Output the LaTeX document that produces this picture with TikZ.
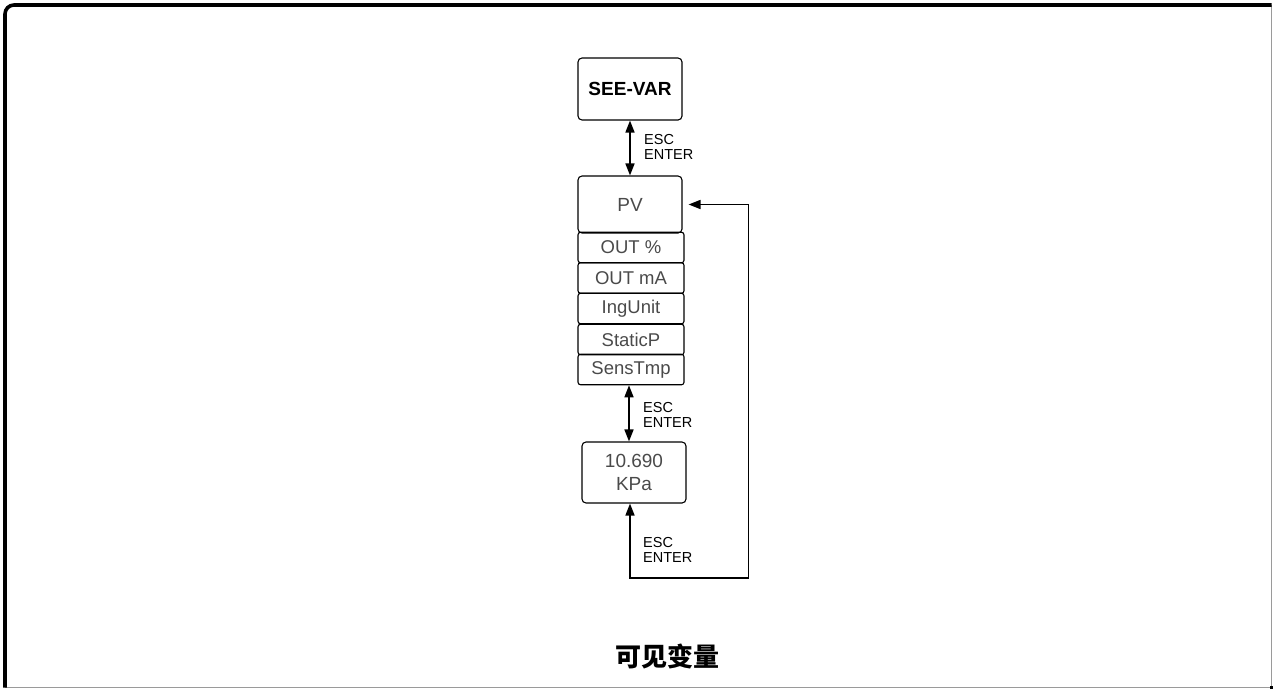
\documentclass[tikz,border=0pt]{standalone}
\usepackage{fontspec}
\setmainfont{Liberation Sans}
\newfontfamily\cjk{Noto Sans CJK SC}
\usetikzlibrary{arrows.meta,calc}
\definecolor{txtgrey}{HTML}{4A4A4A}
\definecolor{framegrey}{HTML}{9A9A9A}
\tikzset{
  box/.style={draw=black, line width=1.1pt, rounded corners=4pt, minimum width=104pt, inner sep=0pt, text=txtgrey, font=\fontsize{19}{23}\selectfont, align=center},
  item/.style={draw=black, line width=1.1pt, rounded corners=2.5pt, minimum width=106pt, minimum height=30.5pt, inner sep=0pt, text=txtgrey, font=\fontsize{18.5}{22}\selectfont},
  conn/.style={line width=1.6pt, {Triangle[length=12pt,width=9pt]}-{Triangle[length=12pt,width=9pt]}},
  lbl/.style={anchor=west, inner sep=0pt, align=left, font=\fontsize{14.5}{15}\selectfont},
}
\begin{document}
\begin{tikzpicture}[x=1pt,y=-1pt]
\useasboundingbox (0,0) rectangle (1273,689);
% outer frame
\draw[framegrey, line width=1.2pt] (5,687.5) -- (1271.5,687.5) -- (1271.5,5);
\draw[black, line width=3.6pt, rounded corners=9pt] (5,687.5) -- (5,5) -- (1271.5,5);
\fill[black] (1269.5,685.5) rectangle (1273,689);
% nodes
\node[box, minimum height=62pt, text=black, font=\bfseries\fontsize{19}{23}\selectfont] (seevar) at (630,89) {SEE-VAR};
\node[box, minimum height=57pt] (pv) at (630,204.5) {PV};
\node[item] (o1) at (631,247.5) {OUT \%};
\node[item] (o2) at (631,278) {OUT mA};
\node[item] (o3) at (631,308.5) {IngUnit};
\node[item] (o4) at (631,339.5) {StaticP};
\node[item] (o5) at (631,369.5) {SensTmp};
\node[box, minimum height=61pt] (kpa) at (634,472.5) {10.690\\KPa};
% labels
\node[lbl] (l1) at (644,146.5) {ESC\\ENTER};
\node[lbl] (l2) at (643,414.5) {ESC\\ENTER};
\node[lbl] (l3) at (643,549.5) {ESC\\ENTER};
\node[inner sep=0pt, font=\cjk\bfseries\fontsize{26}{30}\selectfont] (cap) at (667,656.5) {可见变量};
% connectors
\coordinate (ax) at (629,0);
\coordinate (looptr) at ($(pv.east)+(66,0)$);
\coordinate (loopbl) at (630,578);
\draw[conn] (seevar.south) -- (pv.north);
\draw[conn] (o5.south -| ax) -- (kpa.north -| ax);
\draw[conn, shorten <=6pt] (pv.east) -- (looptr) |- (loopbl) -- (kpa.south -| loopbl);
\end{tikzpicture}
\end{document}
